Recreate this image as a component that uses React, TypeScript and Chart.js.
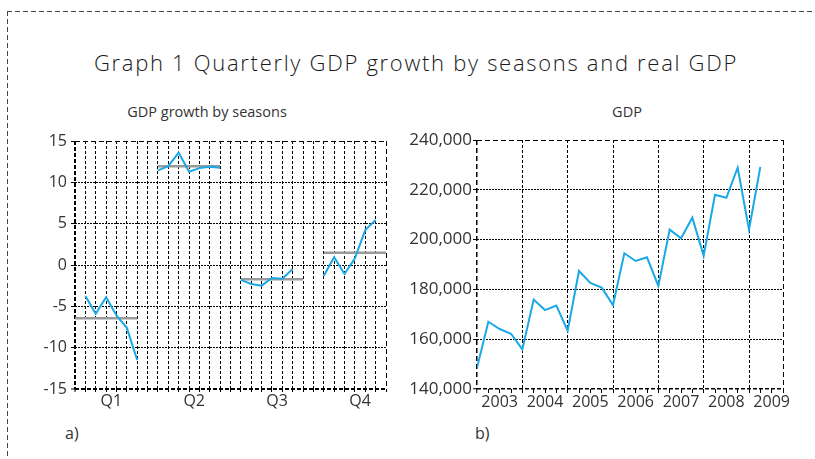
import React, { useEffect, useRef } from 'react';
import { Chart, registerables } from 'chart.js';

Chart.register(...registerables);

// ---------- data: left panel (GDP growth by seasons, %) ----------
const seasonLabels = ['Q1', 'Q2', 'Q3', 'Q4'];
// one value per year 2003..2009 within each season (null = not available)
const q1Growth = [null, -3.75, -5.9, -3.9, -6.1, -7.6, -11.5];
const q2Growth = [11.44, 11.96, 13.6, 11.28, 11.72, 11.88, 11.76];
const q3Growth = [-1.8, -2.3, -2.5, -1.57, -1.65, -0.48, null];
const q4Growth = [-1.29, 0.93, -1.09, 0.8, 4.23, 5.44, null];
const seasonMeans = [-6.45, 11.96, -1.73, 1.49];
const growthTicks = [-15, -10, -5, 0, 5, 10, 15];

// ---------- data: right panel (real GDP, quarterly) ----------
const gdpYears = ['2003', '2004', '2005', '2006', '2007', '2008', '2009'];
const gdpValues = [
  148500, 167000, 164100, 162200,
  155900, 175900, 171700, 173500,
  163400, 187400, 182600, 180700,
  173700, 194500, 191400, 192900,
  181400, 204000, 200500, 208800,
  193500, 218000, 216800, 228900,
  204000, 229200,
];
const gdpTicks = [140000, 160000, 180000, 200000, 220000, 240000];

// ---------- styling ----------
const FONT = '"Open Sans", sans-serif';
const INK = '#333333';
const BLUE = '#1aa9e6';
const GREY = '#9a9a9a';
const CLEAR = 'rgba(0,0,0,0)';

const seasonSeries = [q1Growth, q2Growth, q3Growth, q4Growth];
const yearsPerSeason = q1Growth.length;
const slotsPerSeason = yearsPerSeason + 1;
const leftMax = slotsPerSeason * (seasonSeries.length - 1) + yearsPerSeason - 1;
const quartersPerYear = 4;
const rightMax = gdpYears.length * quartersPerYear - 1;

function LeftChart() {
  const ref = useRef<HTMLCanvasElement | null>(null);
  useEffect(() => {
    if (!ref.current) return;
    const datasets: any[] = [];
    seasonSeries.forEach((vals, g) => {
      const start = g * slotsPerSeason;
      datasets.push({
        data: vals.map((v, i) => ({ x: start + i, y: v })),
        borderColor: BLUE,
        borderWidth: 2,
        pointRadius: 0,
        tension: 0,
        order: 0,
      });
      datasets.push({
        data: [
          { x: start, y: seasonMeans[g] },
          { x: start + yearsPerSeason - 1, y: seasonMeans[g] },
        ],
        borderColor: GREY,
        borderWidth: 2.5,
        pointRadius: 0,
        order: 1,
      });
    });
    const tickVals: number[] = [];
    for (let i = 0; i <= leftMax; i++) tickVals.push(i);
    seasonLabels.forEach((_, g) => tickVals.push(g * slotsPerSeason + yearsPerSeason / 2));
    tickVals.sort((a, b) => a - b);
    const labelFor = (v: number) => {
      const g = seasonLabels.findIndex((_, k) => k * slotsPerSeason + yearsPerSeason / 2 === v);
      return g >= 0 ? seasonLabels[g] : '';
    };
    const chart = new Chart(ref.current, {
      type: 'line',
      data: { datasets },
      options: {
        animation: false,
        responsive: false,
        maintainAspectRatio: false,
        layout: { padding: { top: 21, right: 6, bottom: 0, left: 0 } },
        plugins: { legend: { display: false }, tooltip: { enabled: false }, title: { display: false } },
        scales: {
          x: {
            type: 'linear',
            min: 0,
            max: leftMax,
            afterBuildTicks: (s: any) => { s.ticks = tickVals.map((v) => ({ value: v })); },
            afterFit: (s: any) => { s.height = 31; },
            ticks: {
              autoSkip: false,
              maxRotation: 0,
              minRotation: 0,
              padding: 0,
              color: INK,
              font: { family: FONT, size: 16 },
              callback: (v: any) => labelFor(Number(v)),
            },
            grid: {
              color: (c: any) => (Number.isInteger(c.tick?.value) ? '#000' : CLEAR),
              lineWidth: (c: any) => (c.tick?.value === 0 ? 2 : 1),
              tickColor: (c: any) => (Number.isInteger(c.tick?.value) ? '#000' : CLEAR),
              tickLength: 3,
              tickWidth: 1,
            },
            border: {
              display: false,
              dash: (c: any) => (c.tick?.value === 0 ? [4, 2] : c.tick?.value === leftMax ? [5, 3] : [3, 2]),
            },
          },
          y: {
            min: -15,
            max: 15,
            afterBuildTicks: (s: any) => { s.ticks = growthTicks.map((v) => ({ value: v })); },
            afterFit: (s: any) => { s.width = 55; },
            ticks: { padding: 4, color: INK, font: { family: FONT, size: 16 } },
            grid: {
              color: '#000',
              lineWidth: (c: any) => (c.tick?.value === -15 ? 2 : 1),
              tickColor: '#000',
              tickLength: 4,
              tickWidth: 1,
            },
            border: {
              display: false,
              dash: (c: any) => (c.tick?.value === -15 ? [4, 2] : c.tick?.value === 15 ? [5, 3] : [2, 1]),
            },
          },
        },
      } as any,
    });
    return () => chart.destroy();
  }, []);
  return <canvas ref={ref} width={372} height={300} style={{ position: 'absolute', left: 20, top: 120, width: 372, height: 300 }} />;
}

function RightChart() {
  const ref = useRef<HTMLCanvasElement | null>(null);
  useEffect(() => {
    if (!ref.current) return;
    const tickVals: number[] = [];
    for (let i = 0; i <= rightMax; i++) tickVals.push(i);
    const labelFor = (v: number) => {
      if (v % quartersPerYear === quartersPerYear / 2) return gdpYears[(v - quartersPerYear / 2) / quartersPerYear] ?? '';
      return '';
    };
    const chart = new Chart(ref.current, {
      type: 'line',
      data: {
        datasets: [
          {
            data: gdpValues.map((v, i) => ({ x: i, y: v })),
            borderColor: BLUE,
            borderWidth: 2,
            pointRadius: 0,
            tension: 0,
          },
        ],
      },
      options: {
        animation: false,
        responsive: false,
        maintainAspectRatio: false,
        layout: { padding: { top: 20, right: 17, bottom: 0, left: 0 } },
        plugins: { legend: { display: false }, tooltip: { enabled: false }, title: { display: false } },
        scales: {
          x: {
            type: 'linear',
            min: 0,
            max: rightMax,
            afterBuildTicks: (s: any) => { s.ticks = tickVals.map((v) => ({ value: v })); },
            afterFit: (s: any) => { s.height = 31; },
            ticks: {
              autoSkip: false,
              maxRotation: 0,
              minRotation: 0,
              padding: 0,
              color: INK,
              font: { family: FONT, size: 16 },
              callback: (v: any) => labelFor(Number(v)),
            },
            grid: {
              color: (c: any) => {
                const v = c.tick?.value;
                return v % quartersPerYear === 0 || v === rightMax ? '#000' : CLEAR;
              },
              lineWidth: (c: any) => (c.tick?.value === 0 ? 1.5 : 1),
              tickColor: '#000',
              tickLength: 4,
              tickWidth: 1,
            },
            border: {
              display: false,
              dash: (c: any) => (c.tick?.value === 0 || c.tick?.value === rightMax ? [5, 3] : [3, 2]),
            },
          },
          y: {
            min: 140000,
            max: 240000,
            afterBuildTicks: (s: any) => { s.ticks = gdpTicks.map((v) => ({ value: v })); },
            afterFit: (s: any) => { s.width = 77; },
            ticks: {
              padding: 1,
              color: INK,
              font: { family: FONT, size: 17 },
              callback: (v: any) => Number(v).toLocaleString('en-US'),
            },
            grid: {
              color: '#000',
              lineWidth: (c: any) => (c.tick?.value === 140000 ? 1.5 : 1),
              tickColor: '#000',
              tickLength: 4,
              tickWidth: 1,
            },
            border: {
              display: false,
              dash: (c: any) => (c.tick?.value === 140000 ? [4, 2] : c.tick?.value === 240000 ? [5, 3] : [2, 1]),
            },
          },
        },
      } as any,
    });
    return () => chart.destroy();
  }, []);
  return <canvas ref={ref} width={400} height={300} style={{ position: 'absolute', left: 400, top: 120, width: 400, height: 300 }} />;
}

const textBase: React.CSSProperties = {
  position: 'absolute',
  fontFamily: FONT,
  color: INK,
  lineHeight: 1,
  whiteSpace: 'nowrap',
};

export default function App() {
  return (
    <div style={{ position: 'fixed', left: 0, top: 0, width: 815, height: 459, background: '#fff', overflow: 'hidden' }}>
      <svg width={815} height={459} style={{ position: 'absolute', left: 0, top: 0 }}>
        <line x1={7} y1={11.5} x2={812} y2={11.5} stroke="#444" strokeWidth={1} strokeDasharray="5,3" />
        <line x1={7.5} y1={11} x2={7.5} y2={459} stroke="#444" strokeWidth={1} strokeDasharray="5,3" />
      </svg>
      <div style={{ ...textBase, left: 416, top: 50.5, fontSize: 22, fontWeight: 300, letterSpacing: 1.7, color: '#1a1a1a', transform: 'translateX(-50%)' }}>
        Graph 1 Quarterly GDP growth by seasons and real GDP
      </div>
      <div style={{ ...textBase, left: 207, top: 104.5, fontSize: 14.5, transform: 'translateX(-50%)' }}>
        GDP growth by seasons
      </div>
      <div style={{ ...textBase, left: 627, top: 104.5, fontSize: 14.5, transform: 'translateX(-50%)' }}>
        GDP
      </div>
      <LeftChart />
      <RightChart />
      <div style={{ ...textBase, left: 65, top: 425, fontSize: 16 }}>a)</div>
      <div style={{ ...textBase, left: 475, top: 425, fontSize: 16 }}>b)</div>
    </div>
  );
}
